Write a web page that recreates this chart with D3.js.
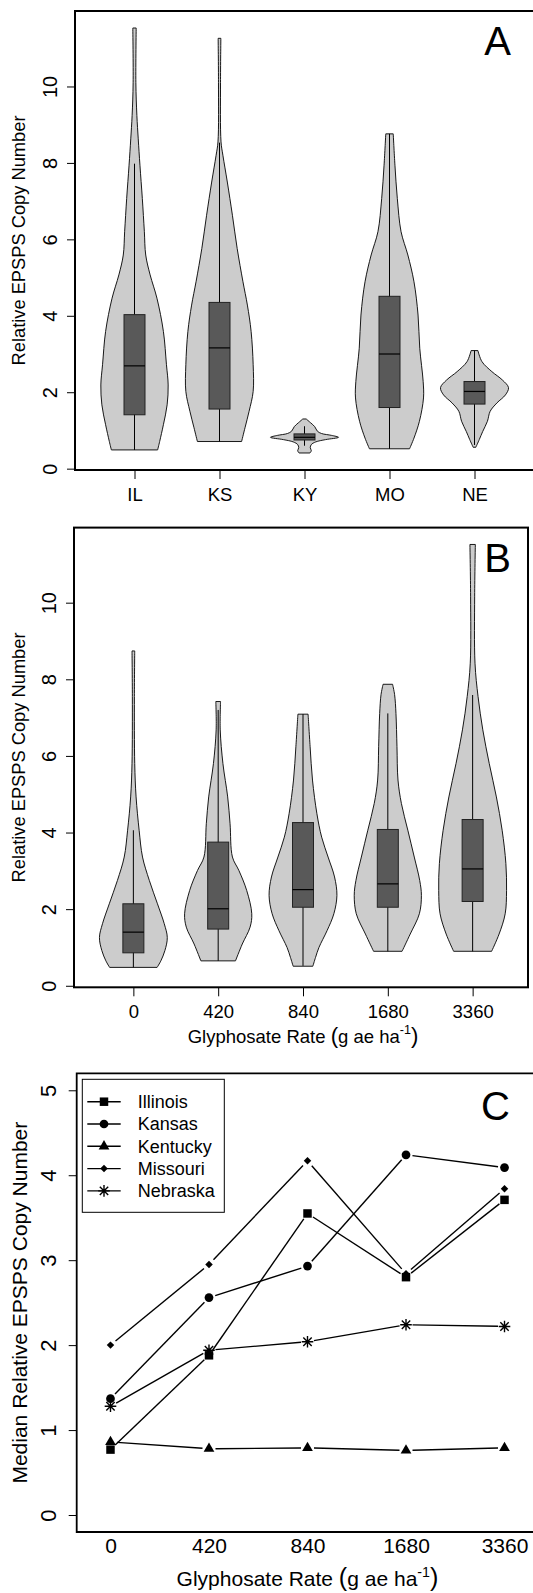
<!DOCTYPE html>
<html><head><meta charset="utf-8">
<script src="https://cdn.jsdelivr.net/npm/d3@7"></script>
<style>
body{margin:0;background:#fff;}
svg{display:block;}
text{font-family:"Liberation Sans",Arial,sans-serif;fill:#000;}
</style></head><body>
<svg id="chart" width="533" height="1593"></svg>
<script>
// ---------- data ----------
const stateCats = ["IL","KS","KY","MO","NE"];
const rateCats = ["0","420","840","1680","3360"];
const yTicksAB = [0,2,4,6,8,10];
const yTicksC = [0,1,2,3,4,5];

// Panel A violin outlines: [copy number, relative half-width]
const violinIL = [[0.49,0.68],[0.71,0.74],[1.15,0.85],[1.67,0.96],[2.19,0.99],[2.72,0.94],[3.59,0.85],[4.46,0.66],[5.07,0.46],[5.59,0.33],[6.2,0.29],[7.07,0.23],[7.94,0.16],[8.63,0.11],[9.24,0.07],[10.1,0.04],[11.53,0.05]];
const violinKS = [[0.71,0.65],[1.07,0.75],[1.5,0.87],[2.02,0.99],[2.72,0.99],[3.59,0.93],[4.28,0.82],[4.89,0.69],[5.76,0.52],[6.63,0.38],[7.5,0.23],[8.2,0.1],[8.55,0.045],[10.1,0.03],[11.26,0.04]];
const violinKY = [[0.41,0.16],[0.47,0.2],[0.55,0.17],[0.63,0.2],[0.7,0.33],[0.76,0.62],[0.82,1.0],[0.87,0.8],[0.92,0.5],[0.98,0.38],[1.1,0.3],[1.2,0.18],[1.3,0.05]];
const violinMO = [[0.52,0.59],[0.8,0.72],[1.24,0.88],[1.85,1.0],[2.28,0.99],[3.15,0.89],[4.02,0.84],[4.89,0.72],[5.59,0.54],[6.2,0.34],[7.07,0.23],[7.94,0.16],[8.76,0.11]];
const violinNE = [[0.56,0.04],[0.76,0.14],[0.97,0.24],[1.24,0.38],[1.5,0.46],[1.72,0.66],[1.93,0.91],[2.12,1.0],[2.32,0.82],[2.54,0.51],[2.8,0.22],[3.09,0.10]];

const boxA_lo  = [0.49,0.71,0.60,0.52,0.62];
const boxA_q1  = [1.41,1.56,0.75,1.60,1.69];
const boxA_med = [2.69,3.16,0.82,3.00,2.02];
const boxA_q3  = [4.03,4.35,0.91,4.51,2.28];
const boxA_hi  = [7.98,8.53,1.11,8.76,3.09];

// Panel B violin outlines
const violin0    = [[0.48,0.70],[0.65,0.81],[0.92,0.93],[1.26,1.0],[1.62,0.91],[2.14,0.71],[2.75,0.47],[3.36,0.27],[4.06,0.17],[4.93,0.08],[5.8,0.04],[7.55,0.03],[8.74,0.04]];
const violin420  = [[0.65,0.51],[1.09,0.71],[1.53,0.94],[1.88,0.99],[2.49,0.84],[3.01,0.61],[3.36,0.42],[4.23,0.35],[4.93,0.28],[5.8,0.14],[6.68,0.06],[7.42,0.07]];
const violin840  = [[0.51,0.29],[0.74,0.37],[1.0,0.47],[1.44,0.71],[1.88,0.91],[2.36,1.0],[2.84,0.93],[3.36,0.74],[3.88,0.55],[4.49,0.41],[5.37,0.28],[6.24,0.21],[7.09,0.15]];
const violin1680 = [[0.90,0.42],[1.35,0.66],[1.88,0.93],[2.36,0.99],[2.75,0.94],[3.36,0.78],[4.06,0.59],[4.76,0.40],[5.37,0.30],[6.24,0.27],[7.11,0.24],[7.6,0.2],[7.87,0.14]];
const violin3360 = [[0.90,0.56],[1.35,0.78],[1.88,0.96],[2.49,1.0],[3.19,0.98],[4.06,0.87],[4.93,0.70],[5.8,0.49],[6.68,0.30],[7.55,0.16],[8.42,0.07],[10.17,0.06],[11.52,0.08]];

const boxB_lo  = [0.48,0.65,0.52,0.90,0.90];
const boxB_q1  = [0.86,1.48,2.05,2.05,2.20];
const boxB_med = [1.40,2.01,2.51,2.66,3.05];
const boxB_q3  = [2.14,3.75,4.26,4.08,4.34];
const boxB_hi  = [4.06,7.20,7.09,7.11,7.59];

// Panel C medians
const seriesNames = ["Illinois","Kansas","Kentucky","Missouri","Nebraska"];
const illinois = [0.77,1.88,3.55,2.80,3.71];
const kansas   = [1.37,2.56,2.93,4.24,4.09];
const kentucky = [0.86,0.78,0.79,0.76,0.79];
const missouri = [2.00,2.95,4.17,2.84,3.84];
const nebraska = [1.28,1.94,2.04,2.24,2.22];

// ---------- drawing ----------
const svg = d3.select("#chart");
const FONT = '"Liberation Sans", Arial, sans-serif';

function rotLabel(g, x, y, txt, size) {
  g.append("text").attr("transform", `translate(${x},${y}) rotate(-90)`)
    .attr("text-anchor","middle").attr("font-size", size).text(txt);
}
function xLabel(g, x, y, size) {
  const t = g.append("text").attr("x", x).attr("y", y).attr("text-anchor","middle").attr("font-size", size);
  t.append("tspan").text("Glyphosate Rate ");
  t.append("tspan").attr("font-size", size*1.2).text("(");
  t.append("tspan").text("g ae ha");
  t.append("tspan").attr("font-size", size*0.68).attr("dy", -size*0.45).text("-1");
  t.append("tspan").attr("font-size", size*1.2).attr("dy", size*0.45).text(")");
}
function letter(g, x, y, txt) {
  g.append("text").attr("x", x).attr("y", y).attr("text-anchor","end")
    .attr("font-family","Lato, 'Open Sans', sans-serif").attr("font-size", 40).text(txt);
}

function violinPanel(o) {
  const g = svg.append("g");
  const x = d3.scalePoint(o.cats, o.xRange).padding(0.7);
  const y = d3.scaleLinear(o.yDomain, [o.bottom, o.top]);
  const hw = d3.scaleLinear([0,1],[0, 0.4 * x.step()]);
  o.violins.forEach((v, i) => {
    const cx = x(o.cats[i]);
    const area = d3.area().curve(d3.curveCatmullRom.alpha(0.5))
      .y(d => y(d[0])).x0(d => cx - hw(d[1])).x1(d => cx + hw(d[1]));
    g.append("path").attr("d", area(v)).attr("fill","#cccccc").attr("stroke","#000").attr("stroke-width",0.9);
    g.append("line").attr("x1",cx).attr("x2",cx).attr("y1",y(o.lo[i])).attr("y2",y(o.hi[i]))
      .attr("stroke","#000").attr("stroke-width",1);
    g.append("rect").attr("x",cx-10.5).attr("width",21).attr("y",y(o.q3[i])).attr("height",y(o.q1[i])-y(o.q3[i]))
      .attr("fill","#595959").attr("stroke","#222").attr("stroke-width",1);
    g.append("line").attr("x1",cx-10.5).attr("x2",cx+10.5).attr("y1",y(o.med[i])).attr("y2",y(o.med[i]))
      .attr("stroke","#000").attr("stroke-width",1.2);
  });
  // frame
  const L = o.xRange[0];
  if (o.right) {
    g.append("rect").attr("x",L).attr("y",o.top).attr("width",o.right-L).attr("height",o.bottom-o.top)
      .attr("fill","none").attr("stroke","#000").attr("stroke-width",2);
  } else {
    g.append("path").attr("d",`M540,${o.top}H${L}V${o.bottom}H540`).attr("fill","none").attr("stroke","#000").attr("stroke-width",2);
  }
  // y axis
  const ya = g.append("g").attr("transform",`translate(${L},0)`)
    .call(d3.axisLeft(y).tickValues(yTicksAB).tickSize(8).tickFormat(d3.format("d")));
  ya.select(".domain").remove();
  ya.attr("font-size",20).attr("font-family",FONT);
  ya.selectAll("line").attr("stroke","#000");
  ya.selectAll("text").attr("transform","rotate(-90)").attr("x",0).attr("y",-18).attr("dy",0)
    .attr("text-anchor","middle");
  // x axis
  const xa = g.append("g").attr("transform",`translate(0,${o.bottom})`)
    .call(d3.axisBottom(x).tickSize(9));
  xa.select(".domain").remove();
  xa.attr("font-size",18.5).attr("font-family",FONT);
  xa.selectAll("line").attr("stroke","#000");
  xa.selectAll("text").attr("y",30.5).attr("dy",0);
  rotLabel(g, 25, (o.top+o.bottom)/2, "Relative EPSPS Copy Number", 18.3);
  if (o.xlab) xLabel(g, x(o.cats[2]), o.bottom + 55.5, 18.5);
  letter(g, 511, o.top + 44, o.letter);
}

violinPanel({
  cats: stateCats, violins: [violinIL, violinKS, violinKY, violinMO, violinNE],
  lo: boxA_lo, q1: boxA_q1, med: boxA_med, q3: boxA_q3, hi: boxA_hi,
  xRange: [75, 534], top: 11, bottom: 470, yDomain: [-0.035, 11.975], letter: "A"
});
violinPanel({
  cats: rateCats, violins: [violin0, violin420, violin840, violin1680, violin3360],
  lo: boxB_lo, q1: boxB_q1, med: boxB_med, q3: boxB_q3, hi: boxB_hi,
  xRange: [74, 532], top: 527.6, bottom: 987.3, right: 528, yDomain: [-0.04, 11.96], letter: "B", xlab: true
});

// ---------- Panel C ----------
(function(){
  const g = svg.append("g");
  const top = 1073.3, bottom = 1532, L = 76.7;
  const x = d3.scalePoint(rateCats, [L, 538.3]).padding(0.343);
  const y = d3.scaleLinear([-0.2, 5.2], [bottom, top]);
  const series = [illinois, kansas, kentucky, missouri, nebraska];
  const shapes = ["square","circle","triangle","diamond","asterisk"];

  function marker(sel, shape, px, py) {
    if (shape === "square") sel.append("path").attr("d", d3.symbol(d3.symbolSquare, 72)()).attr("transform",`translate(${px},${py})`).attr("fill","#000");
    else if (shape === "circle") sel.append("path").attr("d", d3.symbol(d3.symbolCircle, 60)()).attr("transform",`translate(${px},${py})`).attr("fill","#000");
    else if (shape === "triangle") sel.append("path").attr("d", d3.symbol(d3.symbolTriangle, 50)()).attr("transform",`translate(${px},${py})`).attr("fill","#000");
    else if (shape === "diamond") sel.append("path").attr("d", d3.symbol(d3.symbolSquare, 28)()).attr("transform",`translate(${px},${py}) rotate(45)`).attr("fill","#000");
    else {
      const p = d3.path(); const r = 5.8, q = 4.2;
      p.moveTo(-r,0); p.lineTo(r,0); p.moveTo(0,-r); p.lineTo(0,r);
      p.moveTo(-q,-q); p.lineTo(q,q); p.moveTo(-q,q); p.lineTo(q,-q);
      sel.append("path").attr("d", p.toString()).attr("transform",`translate(${px},${py})`)
        .attr("stroke","#000").attr("stroke-width",1.4).attr("fill","none");
    }
  }

  const gap = 6.5;
  series.forEach((s, si) => {
    const pts = s.map((v, i) => [x(rateCats[i]), y(v)]);
    for (let i = 0; i < pts.length - 1; i++) {
      const [x1,y1] = pts[i], [x2,y2] = pts[i+1];
      const d = Math.hypot(x2-x1, y2-y1);
      const ux = (x2-x1)/d, uy = (y2-y1)/d;
      g.append("line").attr("x1", x1+ux*gap).attr("y1", y1+uy*gap).attr("x2", x2-ux*gap).attr("y2", y2-uy*gap)
        .attr("stroke","#000").attr("stroke-width",1.4);
    }
    pts.forEach(p => marker(g, shapes[si], p[0], p[1]));
  });

  g.append("path").attr("d",`M540,${top}H${L}V${bottom}H540`).attr("fill","none").attr("stroke","#000").attr("stroke-width",1.8);

  const ya = g.append("g").attr("transform",`translate(${L},0)`)
    .call(d3.axisLeft(y).tickValues(yTicksC).tickSize(8).tickFormat(d3.format("d")));
  ya.select(".domain").remove();
  ya.attr("font-size",22).attr("font-family",FONT);
  ya.selectAll("line").attr("stroke","#000");
  ya.selectAll("text").attr("transform","rotate(-90)").attr("x",0).attr("y",-20.5).attr("dy",0).attr("text-anchor","middle");

  const xa = g.append("g").attr("transform",`translate(0,${bottom})`).call(d3.axisBottom(x).tickSize(0));
  xa.select(".domain").remove();
  xa.attr("font-size",21).attr("font-family",FONT);
  xa.selectAll("text").attr("y",21).attr("dy",0);

  rotLabel(g, 27, (top+bottom)/2, "Median Relative EPSPS Copy Number", 21);
  xLabel(g, x(rateCats[2]), 1586, 21);
  letter(g, 510, 1120, "C");

  // legend
  const lg = g.append("g");
  lg.append("rect").attr("x",82.3).attr("y",1079.3).attr("width",142).attr("height",133)
    .attr("fill","#fff").attr("stroke","#000").attr("stroke-width",1);
  seriesNames.forEach((n, i) => {
    const ly = 1101.7 + i*22.3;
    lg.append("line").attr("x1",87.3).attr("x2",120.7).attr("y1",ly).attr("y2",ly).attr("stroke","#000").attr("stroke-width",1.4);
    marker(lg, shapes[i], 104, ly);
    lg.append("text").attr("x",137.7).attr("y",ly).attr("dy","0.36em").attr("font-size",18).text(n);
  });
})();
</script></body></html>
